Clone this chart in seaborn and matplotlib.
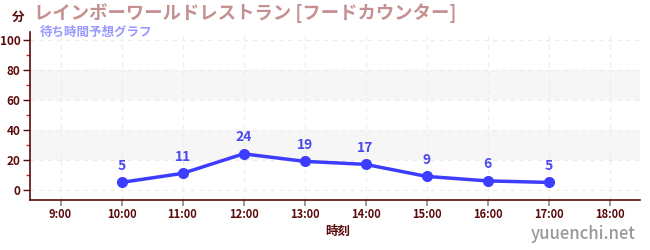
import matplotlib
matplotlib.use("Agg")
import matplotlib.pyplot as plt
from matplotlib.ticker import MultipleLocator, FixedLocator
import seaborn as sns
import pandas as pd

hours = [10, 11, 12, 13, 14, 15, 16, 17]
waits = [5, 11, 24, 19, 17, 9, 6, 5]
tick_hours = [9, 10, 11, 12, 13, 14, 15, 16, 17, 18]
tick_labels = [f"{h}:00" for h in tick_hours]
title = "レインボーワールドレストラン [フードカウンター]"
subtitle = "待ち時間予想グラフ"

sns.set_theme(style="white")
plt.rcParams['font.family'] = ['Noto Sans CJK JP', 'DejaVu Sans']

df = pd.DataFrame({"hour": hours, "wait": waits})

fig = plt.figure(figsize=(6.5, 2.5), dpi=100)
ax = fig.add_axes([30/650, 1-200/250, 610/650, 168/250])

dark = "#5a0a0a"
line_c = "#3d3dff"

for lo, hi in [(20, 40), (60, 80)]:
    ax.axhspan(lo, hi, color="#f6f6f6", zorder=0, lw=0)

sns.lineplot(data=df, x="hour", y="wait", ax=ax, color=line_c, lw=2.5,
             marker="o", markersize=8, markeredgewidth=0, zorder=3)
for h, w in zip(hours, waits):
    ax.annotate(str(w), (h, w), xytext=(0, 7), textcoords="offset points",
                ha="center", va="bottom", color="#4a4aee", fontsize=10, fontweight="bold")

ax.set_xlim(8.5, 18.5)
ax.set_ylim(-6.7, 105)
ax.xaxis.set_major_locator(FixedLocator(tick_hours))
ax.set_xticklabels(tick_labels)
ax.yaxis.set_major_locator(MultipleLocator(20))
ax.yaxis.set_minor_locator(MultipleLocator(10))

for v in tick_hours:
    ax.axvline(v, color="#ececec", lw=0.8, ls=(0, (4, 4)), zorder=1)
for v in range(0, 101, 20):
    ax.axhline(v, color="#ececec", lw=0.8, ls=(0, (4, 4)), zorder=1)

ax.tick_params(axis="x", which="major", length=4, width=1.2, color="#888888",
               labelsize=8, labelcolor=dark, direction="out", pad=2)
ax.tick_params(axis="y", which="major", length=5, width=1, color=dark,
               labelsize=8.5, labelcolor=dark, direction="out", pad=2)
ax.tick_params(axis="y", which="minor", length=3, width=1, color="#dd2222", left=True)
ax.tick_params(axis="both", which="both", bottom=True, left=True)
for lbl in ax.get_xticklabels() + ax.get_yticklabels():
    lbl.set_fontweight("bold")

for s in ["top", "right"]:
    ax.spines[s].set_visible(False)
for s in ["left", "bottom"]:
    ax.spines[s].set_color(dark)
    ax.spines[s].set_linewidth(1.2)

ax.set_xlabel("")
ax.set_ylabel("")

fig.text(18/650, 1-17/250, "分", color=dark, fontsize=9, fontweight="bold", ha="center", va="center")
fig.text(34/650, 1-13/250, title, color="#c49090", fontsize=13.2, fontweight="bold", ha="left", va="center")
fig.text(40/650, 1-32/250, subtitle, color="#9999ff", fontsize=9, fontweight="bold", ha="left", va="center")
fig.text(338/650, 1-231/250, "時刻", color=dark, fontsize=9, fontweight="bold", ha="center", va="center")
fig.text(636/650, 1-234/250, "yuuenchi.net", color="#999999", fontsize=12, fontweight="medium", ha="right", va="center")

fig.savefig("out.png", dpi=100)
